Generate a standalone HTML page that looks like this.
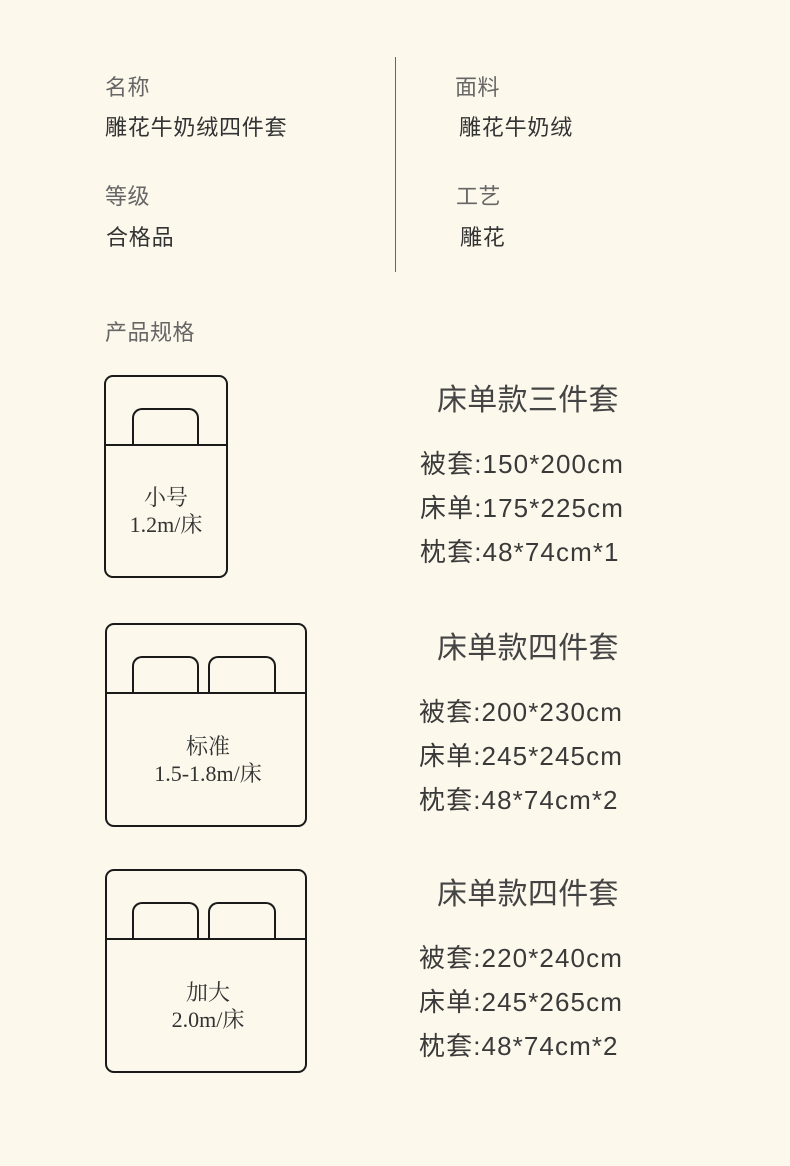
<!DOCTYPE html>
<html><head><meta charset="utf-8"><style>
body{margin:0;width:790px;height:1166px;background:#fdf8ec;position:relative;overflow:hidden;font-family:"Liberation Sans","Noto Sans CJK SC",sans-serif}
.t{position:absolute;white-space:nowrap;line-height:1}
.l{font-size:22px;color:#666;letter-spacing:0.5px}
.v{font-size:22px;color:#333;letter-spacing:0.8px}
.h{font-size:30px;color:#444;letter-spacing:0.3px}
.s{font-size:26px;color:#3a3a3a;letter-spacing:1.1px}
.bed{position:absolute;border:2px solid #1a1a1a;border-radius:9px;box-sizing:border-box}
.ln{position:absolute;height:2px;background:#1a1a1a}
.p{position:absolute;border:2px solid #1a1a1a;border-bottom:none;border-radius:10px 10px 0 0;box-sizing:border-box}
.bt{position:absolute;text-align:center;font-family:"Liberation Serif","Noto Serif CJK SC",serif;font-size:22px;color:#333;line-height:27px}
</style></head><body>
<div style="position:absolute;left:395px;top:57px;width:1px;height:215px;background:#666"></div>
<div class="t l" style="left:105px;top:77px">名称</div>
<div class="t v" style="left:105px;top:117px">雕花牛奶绒四件套</div>
<div class="t l" style="left:105px;top:186px">等级</div>
<div class="t v" style="left:106px;top:227px">合格品</div>
<div class="t l" style="left:455px;top:77px">面料</div>
<div class="t v" style="left:459px;top:117px">雕花牛奶绒</div>
<div class="t l" style="left:456px;top:186px">工艺</div>
<div class="t v" style="left:460px;top:227px">雕花</div>
<div class="t l" style="left:105px;top:322px">产品规格</div>

<div class="bed" style="left:104px;top:375px;width:124px;height:203px"></div>
<div class="ln" style="left:104px;top:444px;width:124px"></div>
<div class="p" style="left:132px;top:408px;width:67px;height:37px"></div>
<div class="bt" style="left:104px;top:484px;width:124px">小号<br>1.2m/床</div>

<div class="bed" style="left:105px;top:623px;width:202px;height:204px"></div>
<div class="ln" style="left:105px;top:692px;width:202px"></div>
<div class="p" style="left:132px;top:656px;width:67px;height:37px"></div>
<div class="p" style="left:208px;top:656px;width:68px;height:37px"></div>
<div class="bt" style="left:105px;top:733px;width:206px">标准<br>1.5-1.8m/床</div>

<div class="bed" style="left:105px;top:869px;width:202px;height:204px"></div>
<div class="ln" style="left:105px;top:938px;width:202px"></div>
<div class="p" style="left:132px;top:902px;width:67px;height:37px"></div>
<div class="p" style="left:208px;top:902px;width:68px;height:37px"></div>
<div class="bt" style="left:105px;top:979px;width:206px">加大<br>2.0m/床</div>

<div class="t h" style="left:437px;top:386px">床单款三件套</div>
<div class="t s" style="left:420px;top:451px">被套:150*200cm</div>
<div class="t s" style="left:420px;top:495px">床单:175*225cm</div>
<div class="t s" style="left:420px;top:539px">枕套:48*74cm*1</div>

<div class="t h" style="left:437px;top:634px">床单款四件套</div>
<div class="t s" style="left:419px;top:699px">被套:200*230cm</div>
<div class="t s" style="left:419px;top:743px">床单:245*245cm</div>
<div class="t s" style="left:419px;top:787px">枕套:48*74cm*2</div>

<div class="t h" style="left:437px;top:880px">床单款四件套</div>
<div class="t s" style="left:419px;top:945px">被套:220*240cm</div>
<div class="t s" style="left:419px;top:989px">床单:245*265cm</div>
<div class="t s" style="left:419px;top:1033px">枕套:48*74cm*2</div>
</body></html>
